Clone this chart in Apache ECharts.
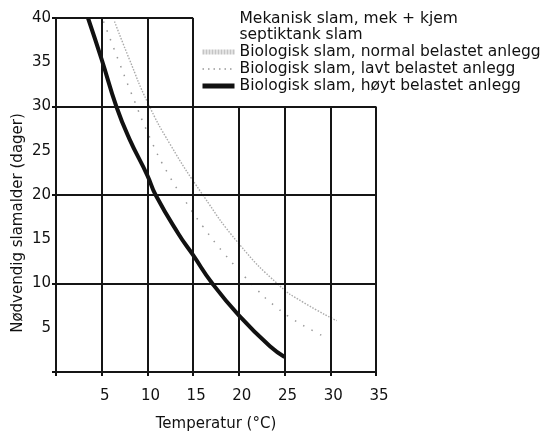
<!DOCTYPE html>
<html>
<head>
<meta charset="utf-8">
<script src="https://cdn.jsdelivr.net/npm/echarts@6/dist/echarts.min.js"></script>
<style>
html,body{margin:0;padding:0;background:#fff}
#chart{width:545px;height:437px}
</style>
</head>
<body>
<div id="chart"></div>
<script>
// verdier lest av figuren: temperatur (°C) -> nødvendig slamalder (dager)
var tempHoyt = [3.5, 5, 6.6, 8, 10, 10.9, 13.4, 15, 17.1, 20, 23.4, 25];
var dagerHoyt = [40, 35.3, 30, 26.4, 22.2, 20, 15.6, 13.2, 10, 6.4, 2.9, 1.7];

var tempNormal = [6.4, 8, 10, 12.5, 16, 20, 24.4, 27, 30.7];
var dagerNormal = [39.6, 35.4, 30.5, 25.7, 20.1, 14.5, 9.8, 7.9, 5.8];

var tempLavt = [5.2, 6.8, 8.2, 10.3, 12.2, 14.6, 16.1, 18.3, 21.9, 24.0, 26.0, 28.4, 29.5];
var dagerLavt = [39.6, 35.3, 31.6, 26.4, 22.5, 18.6, 16.4, 13.5, 9.4, 7.4, 5.9, 4.5, 3.9];

var navnMek = 'Mekanisk slam, mek + kjem\nseptiktank slam';
var navnNormal = 'Biologisk slam, normal belastet anlegg';
var navnLavt = 'Biologisk slam, lavt belastet anlegg';
var navnHoyt = 'Biologisk slam, høyt belastet anlegg';

// rutenett: fulle linjer og de korte øverst til venstre
var xMax = 35, yMax = 40;
var raderHele = [0, 10, 20, 30];   // går over hele bredden
var raderKort = [40];              // bare 0..15
var kolHoy = [0, 5, 10, 15];       // opp til 40
var kolLav = [20, 25, 30, 35];     // opp til 30
var yMerker = [0, 10, 20, 30, 40];

function par(xs, ys) {
    var out = [];
    for (var i = 0; i < xs.length; i++) out.push([xs[i], ys[i]]);
    return out;
}

var linjer = [];
raderHele.forEach(function (y) { linjer.push([{coord: [0, y]}, {coord: [xMax, y]}]); });
raderKort.forEach(function (y) { linjer.push([{coord: [0, y]}, {coord: [15, y]}]); });
kolHoy.forEach(function (x) { linjer.push([{coord: [x, 0]}, {coord: [x, yMax]}]); });
kolLav.forEach(function (x) { linjer.push([{coord: [x, 0]}, {coord: [x, 30]}]); });

var font = 'DejaVu Sans';
var myChart = echarts.init(document.getElementById('chart'));

var option = {
    backgroundColor: '#fff',
    animation: false,
    textStyle: {fontFamily: font, color: '#111'},
    grid: {left: 56, right: 169, top: 18, bottom: 61},
    legend: {
        orient: 'vertical',
        left: 195,
        top: 6,
        itemGap: 1,
        itemWidth: 32,
        itemHeight: 14,
        textStyle: {fontFamily: font, fontSize: 15.5, color: '#111', lineHeight: 16},
        data: [
            {name: navnMek, icon: 'none'},
            {name: navnNormal, itemStyle: {opacity: 0}, lineStyle: {width: 5, color: '#c4c4c4', type: [2, 1]}},
            {name: navnLavt, itemStyle: {opacity: 0}, lineStyle: {width: 1.5, color: '#999', type: [1.5, 4]}},
            {name: navnHoyt, itemStyle: {opacity: 0}, lineStyle: {width: 5, color: '#111'}}
        ]
    },
    xAxis: {
        type: 'value',
        min: 0,
        max: xMax,
        interval: 5,
        name: 'Temperatur (°C)',
        nameLocation: 'middle',
        nameGap: 45,
        nameTextStyle: {fontFamily: font, fontSize: 15, color: '#111'},
        axisLine: {show: false},
        axisTick: {show: true, length: 4, lineStyle: {color: '#111', width: 2}},
        axisLabel: {
            margin: 17,
            fontFamily: font,
            fontSize: 15,
            color: '#111',
            padding: [0, 0, 0, 6],
            formatter: function (v) { return v === 0 ? '' : v; }
        },
        splitLine: {show: false}
    },
    yAxis: {
        type: 'value',
        min: 0,
        max: yMax,
        interval: 5,
        name: 'Nødvendig slamalder (dager)',
        nameLocation: 'middle',
        nameRotate: 90,
        nameGap: 30,
        nameMoveOverlap: false,
        nameTextStyle: {fontFamily: font, fontSize: 15, color: '#111', padding: [0, 56, 0, 0]},
        axisLine: {show: false},
        axisTick: {show: true, length: 4, customValues: yMerker, lineStyle: {color: '#111', width: 2}},
        axisLabel: {
            margin: 5,
            fontFamily: font,
            fontSize: 15,
            color: '#111',
            formatter: function (v) { return v === 0 ? '' : v; }
        },
        splitLine: {show: false}
    },
    series: [
        {
            name: 'rutenett',
            type: 'line',
            data: [],
            silent: true,
            z: 1,
            markLine: {
                silent: true,
                symbol: 'none',
                animation: false,
                label: {show: false},
                lineStyle: {color: '#151515', width: 2, type: 'solid'},
                data: linjer
            }
        },
        {
            name: navnMek,
            type: 'line',
            data: [],
            symbol: 'none'
        },
        {
            name: navnNormal,
            type: 'line',
            data: par(tempNormal, dagerNormal),
            symbol: 'none',
            smooth: 0.5,
            z: 3,
            itemStyle: {color: '#aaa'},
            lineStyle: {color: '#aaa', width: 1.4, type: [1.5, 1.5]}
        },
        {
            name: navnLavt,
            type: 'line',
            data: par(tempLavt, dagerLavt),
            symbol: 'none',
            smooth: 0.5,
            z: 3,
            itemStyle: {color: '#999'},
            lineStyle: {color: '#999', width: 1.5, type: [1.5, 8]}
        },
        {
            name: navnHoyt,
            type: 'line',
            data: par(tempHoyt, dagerHoyt),
            symbol: 'none',
            smooth: 0.5,
            z: 4,
            itemStyle: {color: '#111'},
            lineStyle: {color: '#111', width: 4}
        }
    ]
};

myChart.setOption(option);
</script>
</body>
</html>
